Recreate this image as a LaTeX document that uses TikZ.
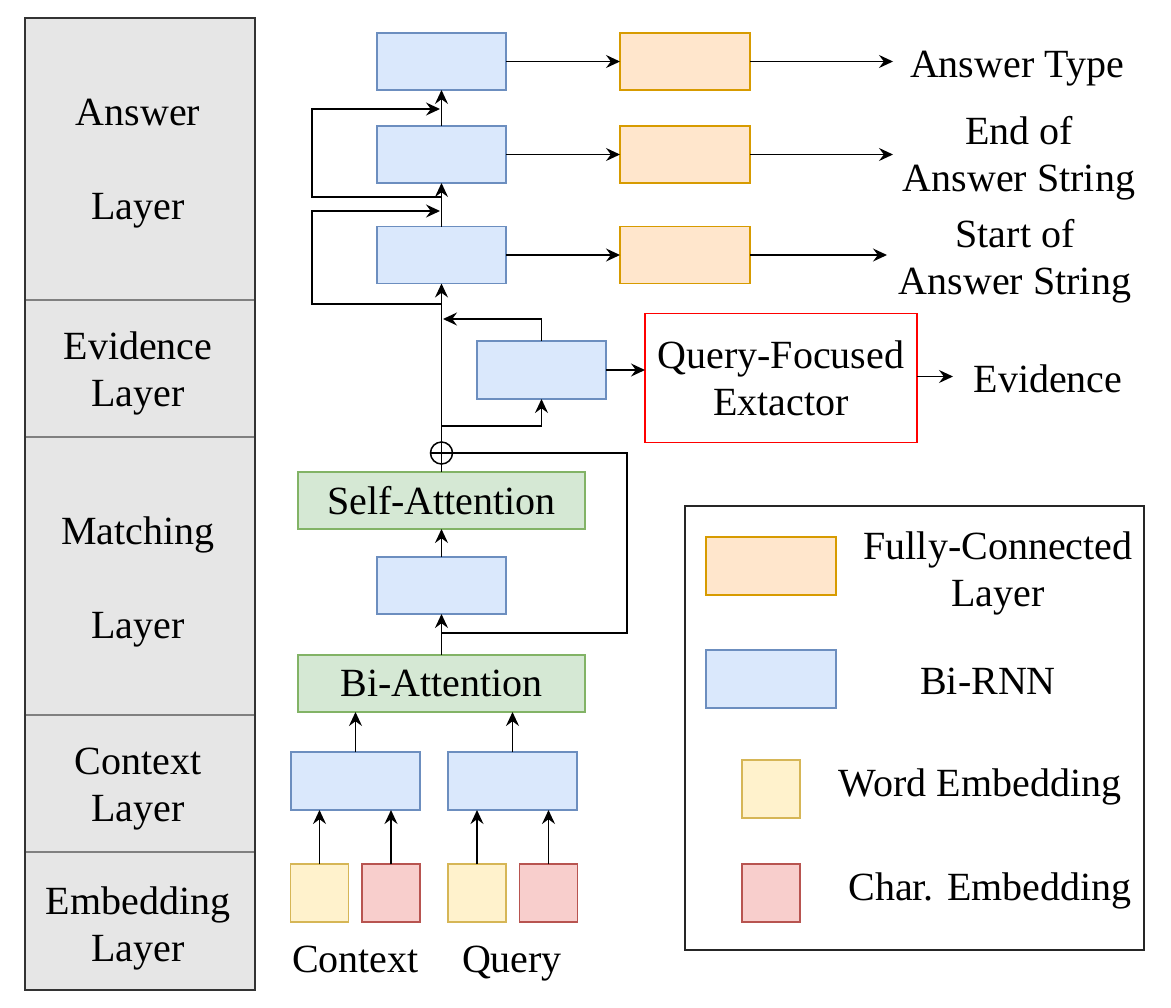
\documentclass[tikz,border=0pt]{standalone}
\usepackage{fontspec}
\setmainfont{Liberation Serif}
\usepackage{tikz}
\usetikzlibrary{arrows.meta}

\definecolor{rnnfill}{HTML}{DAE8FC}
\definecolor{rnnline}{HTML}{6C8EBF}
\definecolor{fcfill}{HTML}{FFE6CC}
\definecolor{fcline}{HTML}{D79B00}
\definecolor{attfill}{HTML}{D5E8D4}
\definecolor{attline}{HTML}{82B366}
\definecolor{wfill}{HTML}{FFF2CC}
\definecolor{wline}{HTML}{D6B656}
\definecolor{cfill}{HTML}{F8CECC}
\definecolor{cline}{HTML}{B85450}
\definecolor{colfill}{HTML}{E6E6E6}

\begin{document}
\begin{tikzpicture}[x=0.5pt, y=-0.5pt, font=\fontsize{20}{23.5}\selectfont,
  box/.style={draw, line width=0.75pt, inner sep=0pt, outer sep=0pt},
  rnn/.style={box, fill=rnnfill, draw=rnnline, minimum width=64.5pt, minimum height=28.5pt},
  fc/.style={box, fill=fcfill, draw=fcline, minimum width=65pt, minimum height=28.5pt},
  att/.style={box, fill=attfill, draw=attline, minimum width=143.5pt, minimum height=28.5pt},
  wemb/.style={box, fill=wfill, draw=wline, minimum width=29pt, minimum height=29pt},
  cemb/.style={box, fill=cfill, draw=cline, minimum width=29pt, minimum height=29pt},
  lbl/.style={align=center, inner sep=0pt},
  flow/.style={-{Stealth[length=7pt,width=6.5pt,inset=2.4pt]}, line width=0.75pt},
  wire/.style={line width=0.75pt}]
  \useasboundingbox (0,0) rectangle (1171,1007);

  \fill[colfill] (25,18) rectangle (255,990);
  \draw[gray, line width=0.9pt] (25,300) -- (255,300) (25,437) -- (255,437)
    (25,715) -- (255,715) (25,852) -- (255,852);
  \draw[black!80, line width=1.2pt] (25,18) rectangle (255,990);
  \node[lbl] (lyAns) at (138,164) {Answer\\[23.5pt]Layer};
  \node[lbl] (lyEvi) at (138,373) {Evidence\\Layer};
  \node[lbl] (lyMat) at (138,581.5) {Matching\\[23.5pt]Layer};
  \node[lbl] (lyCtx) at (138,789) {Context\\Layer};
  \node[lbl] (lyEmb) at (138,928) {Embedding\\Layer};

  \node[rnn] (rnnA) at (441.5,61.5) {};
  \node[rnn] (rnnB) at (441.5,154.5) {};
  \node[rnn] (rnnC) at (441.5,255) {};
  \node[fc] (fcA) at (685,61.5) {};
  \node[fc] (fcB) at (685,154.5) {};
  \node[fc] (fcC) at (685,255) {};
  \node[lbl, anchor=base] (outA) at (1017,77) {Answer Type};
  \node[lbl] (outB) at (1019,158) {End of\\Answer String};
  \node[lbl] (outC) at (1015,261.5) {Start of\\Answer String};
  \coordinate (tipA) at (893,61.5);
  \coordinate (tipB) at (893,154.5);
  \coordinate (tipC) at (887,255);

  \draw[flow] (rnnA.east) -- (fcA.west);
  \draw[flow] (rnnB.east) -- (fcB.west);
  \draw[flow] (rnnC.east) -- (fcC.west);
  \draw[flow] (fcA.east) -- (tipA);
  \draw[flow] (fcB.east) -- (tipB);
  \draw[flow] (fcC.east) -- (tipC);
  \draw[flow] (rnnB.north) -- (rnnA.south);
  \draw[flow] (rnnC.north) -- (rnnB.south);

  \coordinate (lpA) at (441.5,304);
  \coordinate (lpAend) at (440,211);
  \coordinate (lpB) at (441.5,197);
  \coordinate (lpBend) at (440,109);
  \draw[flow] (lpA) -| (312,211) -- (lpAend);
  \draw[flow] (lpB) -| (312,109) -- (lpBend);

  \node[rnn, minimum height=29pt] (rnnE) at (541.5,370) {};
  \node[box, draw=red, fill=white, minimum width=136pt, minimum height=64.5pt,
    align=center] (qfe) at (781,378) {Query-Focused\\Extactor};
  \node[lbl, anchor=base] (evid) at (1048,392) {Evidence};
  \coordinate (evTip) at (953,376.5);
  \coordinate (evIn) at (443,319);
  \coordinate (evOut) at (441.5,426);
  \draw[flow] (rnnE.east) -- (rnnE.east -| qfe.west);
  \draw[flow] (qfe.east |- evTip) -- (evTip);
  \draw[flow] (rnnE.north) |- (evIn);
  \draw[flow] (evOut) -| (rnnE.south);

  \node[circle, draw, line width=0.75pt, minimum size=11pt, inner sep=0pt] (plus) at (441.5,453) {};
  \draw[wire] (plus.north) -- (plus.south) (plus.west) -- (plus.east);
  \draw[flow] (plus.north) -- (rnnC.south);

  \node[att] (selfatt) at (441.5,500.5) {Self-Attention};
  \node[rnn] (rnnM) at (441.5,585.5) {};
  \node[att] (biatt) at (441.5,683.5) {Bi-Attention};
  \coordinate (skipEnd) at (441.5,633);
  \draw[wire] (selfatt.north) -- (plus.south);
  \draw[flow] (rnnM.north) -- (selfatt.south);
  \draw[flow] (biatt.north) -- (rnnM.south);
  \draw[wire] (plus.east) -| (627,633) -- (skipEnd);

  \node[rnn, minimum height=29pt] (ctxC) at (355.5,781) {};
  \node[rnn, minimum height=29pt] (ctxQ) at (512.5,781) {};
  \draw[flow] (ctxC.north) -- (ctxC.north |- biatt.south);
  \draw[flow] (ctxQ.north) -- (ctxQ.north |- biatt.south);

  \node[wemb] (wC) at (319.5,893) {};
  \node[cemb] (chC) at (391,893) {};
  \node[wemb] (wQ) at (477,893) {};
  \node[cemb] (chQ) at (548.5,893) {};
  \draw[flow] (wC.north) -- (wC.north |- ctxC.south);
  \draw[flow] (chC.north) -- (chC.north |- ctxC.south);
  \draw[flow] (wQ.north) -- (wQ.north |- ctxQ.south);
  \draw[flow] (chQ.north) -- (chQ.north |- ctxQ.south);
  \node[lbl, anchor=base] (inC) at (355.5,972) {Context};
  \node[lbl, anchor=base] (inQ) at (512,972) {Query};

  \draw[black!85, line width=0.9pt] (685,506) rectangle (1144,950);
  \node[fc, minimum height=29pt] (lgFC) at (771,566) {};
  \node[rnn, minimum width=65pt, minimum height=29pt] (lgRNN) at (771,679) {};
  \node[wemb] (lgW) at (771,789) {};
  \node[cemb] (lgCh) at (771,893) {};
  \node[lbl] (lgFCt) at (998,573.5) {Fully-Connected\\Layer};
  \node[lbl, anchor=base] (lgRNNt) at (988,694) {Bi-RNN};
  \node[lbl, anchor=base] (lgWt) at (980,796) {Word Embedding};
  \node[lbl, anchor=base] (lgCht) at (990,900) {Char. Embedding};
\end{tikzpicture}
\end{document}
